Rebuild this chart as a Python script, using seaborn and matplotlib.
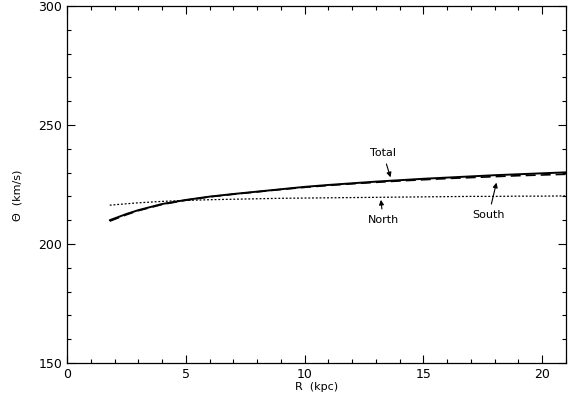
import matplotlib.pyplot as plt
from matplotlib.ticker import MultipleLocator
import seaborn as sns
import pandas as pd

# rotation curve values
r_kpc = [1.8, 2.5, 3.0, 4.0, 5.0, 6.0, 7.0, 8.0, 9.0, 10.0, 11.0, 12.0, 13.0,
         14.0, 15.0, 16.0, 17.0, 18.0, 19.0, 20.0, 21.0]
theta_total = [210.0, 212.6, 214.2, 216.8, 218.5, 219.9, 221.0, 222.0, 223.0,
               224.0, 224.8, 225.5, 226.2, 226.8, 227.4, 227.9, 228.4, 228.9,
               229.3, 229.7, 230.1]
theta_south = [209.6, 212.3, 214.0, 216.6, 218.4, 219.8, 220.9, 221.9, 222.9,
               223.8, 224.6, 225.3, 225.9, 226.5, 227.0, 227.5, 227.9, 228.3,
               228.7, 229.0, 229.3]
theta_north = [216.3, 216.9, 217.3, 217.9, 218.3, 218.6, 218.8, 219.0, 219.2,
               219.3, 219.4, 219.5, 219.6, 219.7, 219.8, 219.9, 220.0, 220.0,
               220.1, 220.1, 220.2]


def main():
    sns.set_style("ticks")
    plt.rcParams['font.family'] = ['DejaVu Sans']
    plt.rcParams['text.color'] = 'black'
    plt.rcParams['axes.labelcolor'] = 'black'
    plt.rcParams['xtick.color'] = 'black'
    plt.rcParams['ytick.color'] = 'black'

    df = pd.DataFrame({
        'R': r_kpc * 3,
        'theta': theta_total + theta_south + theta_north,
        'comp': ['Total'] * len(r_kpc) + ['South'] * len(r_kpc) + ['North'] * len(r_kpc),
    })

    fig = plt.figure(figsize=(5.7, 3.97), dpi=100)
    ax = fig.add_axes([0.1175, 0.0856, 0.8755, 0.8994])

    styles = {'Total': ('-', 1.4), 'South': ((0, (6, 3)), 1.2), 'North': ((0, (1.5, 1.5)), 0.9)}
    for name, (ls, lw) in styles.items():
        sub = df[df['comp'] == name]
        sns.lineplot(data=sub, x='R', y='theta', ax=ax, color='black',
                     linestyle=ls, linewidth=lw, legend=False)

    ax.set_xlim(0, 21)
    ax.set_ylim(150, 300)
    ax.xaxis.set_major_locator(MultipleLocator(5))
    ax.xaxis.set_minor_locator(MultipleLocator(1))
    ax.yaxis.set_major_locator(MultipleLocator(50))
    ax.yaxis.set_minor_locator(MultipleLocator(10))
    ax.tick_params(which='both', direction='in', top=True, right=True,
                   labelsize=9, color='black', width=0.8)
    ax.tick_params(which='major', length=6)
    ax.tick_params(which='minor', length=3)
    for s in ax.spines.values():
        s.set_linewidth(0.9)
        s.set_color('black')

    ax.set_xlabel('R  (kpc)', fontsize=8, labelpad=1)
    ax.set_ylabel('Θ  (km/s)', fontsize=8, labelpad=12)
    ax.yaxis.set_label_coords(-0.09, 0.47)

    arrow = dict(arrowstyle='-|>', color='black', lw=0.8, mutation_scale=7)
    ax.annotate('Total', xy=(13.65, 226.9), xytext=(13.3, 238.2), fontsize=8,
                ha='center', va='center', arrowprops=arrow)
    ax.annotate('North', xy=(13.2, 219.7), xytext=(13.3, 210.1), fontsize=8,
                ha='center', va='center', arrowprops=arrow)
    ax.annotate('South', xy=(18.1, 226.9), xytext=(17.75, 212.2), fontsize=8,
                ha='center', va='center', arrowprops=arrow)

    plt.savefig('out.png', dpi=100)


if __name__ == '__main__':
    main()
